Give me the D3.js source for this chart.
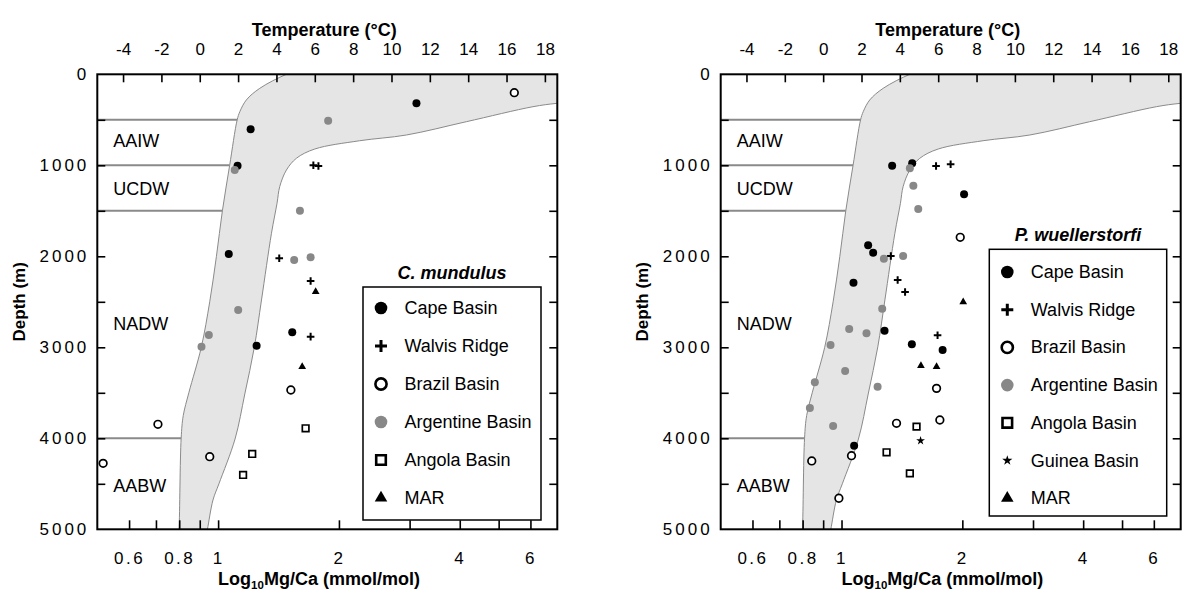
<!DOCTYPE html>
<html><head><meta charset="utf-8">
<script src="https://cdn.jsdelivr.net/npm/d3@7"></script>
<style>
body{margin:0;background:#fff}
svg{display:block}
text{font-family:"Liberation Sans",Arial,Helvetica,sans-serif;fill:#000}
</style></head><body>
<svg id="chart" width="1185" height="589"></svg>
<script>
// ---------------- data ----------------
const mgDomain = [0.5, 7];
const depthDomain = [0, 5000];
const calB = 0.9, calA = 0.11;            // Mg/Ca = B * exp(A * T)
const tempTicks = [-4, -2, 0, 2, 4, 6, 8, 10, 12, 14, 16, 18];
const mgTicks = [0.6, 0.7, 0.8, 0.9, 1, 2, 3, 4, 5, 6];
const mgLabels = [0.6, 0.8, 1, 2, 4, 6];
const depthTicks = [0, 500, 1000, 1500, 2000, 2500, 3000, 3500, 4000, 4500, 5000];
const depthLabels = [0, 1000, 2000, 3000, 4000, 5000];

const waterMassBounds = [500, 1000, 1500, 4000];
const waterMassNames = ["AAIW", "UCDW", "NADW", "AABW"];
const waterMassLabelDepth = [730, 1255, 2745, 4520];

// temperature envelope (°C vs depth)
const envColdT =     [5.4, 4.52, 3.13, 2.43, 2.09, 1.95, 1.56, 1.18, 0.87, 0.52, 0.08, -0.57, -0.86, -0.97, -1.08, -1.12];
const envColdDepth = [-60, 0,    154,  282,  411,  502,  1000, 1500, 2000, 2500, 3000, 3500,  3750,  4000,  5000,  5100];
const envWarmT =     [0.3,  0.4,  0.69, 1.0,  1.84, 2.35, 2.85, 3.22, 3.74, 4.03, 4.17, 4.52, 5.04, 6.0, 8.34, 10.78, 13.9, 17.38, 18.63, 21];
const envWarmDepth = [5100, 5000, 4678, 4500, 4008, 3513, 2995, 2480, 1747, 1418, 1235, 1052, 923,  821, 730,  667,   521,  356,   319,   280];

const siteNames = ["Cape Basin", "Walvis Ridge", "Brazil Basin", "Argentine Basin", "Angola Basin", "Guinea Basin", "MAR"];

// C. mundulus  [Mg/Ca, depth]
const cmCape = [[3.12,319],[1.205,604],[1.118,1004],[1.063,1975],[1.53,2835],[1.247,2982]];
const cmWalvis = [[1.727,1000],[1.778,1008],[1.42,2022],[1.70,2271],[1.70,2883]];
const cmBrazil = [[5.47,202],[1.518,3469],[0.708,3846],[0.517,4275],[0.953,4202]];
const cmArgentine = [[1.88,510],[1.10,1052],[1.599,1499],[1.547,2040],[1.70,2011],[1.122,2590],[0.948,2865],[0.909,2993]];
const cmAngola = [[1.652,3890],[1.216,4172],[1.154,4403]];
const cmMAR = [[1.75,2389],[1.62,3213]];

// P. wuellerstorfi  [Mg/Ca, depth]
const pwCape = [[1.337,1004],[1.50,978],[2.02,1319],[1.165,1879],[1.199,1960],[1.071,2290],[1.28,2817],[1.497,2967],[1.786,3030],[1.075,4081]];
const pwWalvis = [[1.72,1008],[1.87,989],[1.327,1997],[1.38,2260],[1.44,2392],[1.735,2868]];
const pwBrazil = [[1.976,1791],[1.725,3451],[1.371,3835],[1.758,3799],[1.059,4191],[0.843,4249],[0.985,4659]];
const pwArgentine = [[1.48,1033],[1.51,1224],[1.553,1480],[1.275,2026],[1.424,1997],[1.263,2575],[1.045,2799],[1.154,2846],[0.939,2975],[1.021,3260],[0.858,3385],[1.23,3433],[0.834,3667],[0.953,3865]];
const pwAngola = [[1.538,3872],[1.295,4154],[1.48,4385]];
const pwGuinea = [[1.574,4026]];
const pwMAR = [[2.01,2502],[1.577,3202],[1.725,3213]];

// ---------------- styles / layout ----------------
const siteStyle = {
  "Cape Basin":      {shape:"circle", fill:"#000", stroke:"none"},
  "Walvis Ridge":    {shape:"plus", fill:"none", stroke:"#000"},
  "Brazil Basin":    {shape:"circle", fill:"#fff", stroke:"#000"},
  "Argentine Basin": {shape:"circle", fill:"#888", stroke:"none"},
  "Angola Basin":    {shape:"square", fill:"#fff", stroke:"#000"},
  "Guinea Basin":    {shape:"star", fill:"#000", stroke:"none"},
  "MAR":             {shape:"triangle", fill:"#000", stroke:"none"}
};
const symSize = {
  data:   {circle:4, open:3.8, plus:3.8, square:3.3, star:24, triangle:26, sw:1.7, pw:2},
  legend: {circle:6.3, open:5.6, plus:6, square:4.8, star:32, triangle:68, sw:2.6, pw:3}
};

const panels = [
  {x0:97.3, title:"C. mundulus",
   series:[["Cape Basin",cmCape],["Walvis Ridge",cmWalvis],["Brazil Basin",cmBrazil],["Argentine Basin",cmArgentine],["Angola Basin",cmAngola],["MAR",cmMAR]],
   legend:{dx:265.7, y:287, w:178, h:233, first:308, step:38}},
  {x0:720.7, title:"P. wuellerstorfi",
   series:[["Cape Basin",pwCape],["Walvis Ridge",pwWalvis],["Brazil Basin",pwBrazil],["Argentine Basin",pwArgentine],["Angola Basin",pwAngola],["Guinea Basin",pwGuinea],["MAR",pwMAR]],
   legend:{dx:268.6, y:249.3, w:177.4, h:266.7, first:272, step:37.7}}
];
const TOP = 74.3, BOTTOM = 529.3, W = 460;
const tempDomain = mgDomain.map(m => Math.log(m / calB) / calA);

const svg = d3.select("#chart");

function symbolPath(name, kind) {
  const st = siteStyle[name], s = symSize[kind];
  if (st.shape === "circle") {
    const r = st.fill === "#fff" ? s.open : s.circle;
    return d3.symbol(d3.symbolCircle, Math.PI * r * r)();
  }
  if (st.shape === "plus") { const h = s.plus; return `M${-h},0H${h}M0,${-h}V${h}`; }
  if (st.shape === "square") { const a = s.square; return `M${-a},${-a}H${a}V${a}H${-a}Z`; }
  if (st.shape === "star") return d3.symbol(d3.symbolStar, s.star)();
  if (st.shape === "triangle") return d3.symbol(d3.symbolTriangle, s.triangle)();
}
function symbolStrokeWidth(name, kind) {
  const st = siteStyle[name], s = symSize[kind];
  if (st.shape === "plus") return s.pw;
  return st.stroke === "none" ? 0 : s.sw;
}

panels.forEach((p, pi) => {
  const x = d3.scaleLog().domain(mgDomain).range([p.x0, p.x0 + W]);
  const t = d3.scaleLinear().domain(tempDomain).range([p.x0, p.x0 + W]);
  const y = d3.scaleLinear().domain(depthDomain).range([TOP, BOTTOM]);
  const g = svg.append("g");

  const clipId = "clip" + pi;
  svg.append("clipPath").attr("id", clipId).append("rect")
    .attr("x", p.x0).attr("y", TOP).attr("width", W).attr("height", BOTTOM - TOP);

  // envelope
  const cold = envColdT.map((v, i) => [t(v), y(envColdDepth[i])]);
  const warm = envWarmT.map((v, i) => [t(v), y(envWarmDepth[i])]);
  const line = d3.line().curve(d3.curveCatmullRom.alpha(0.5));
  const coldPath = line(cold), warmPath = line(warm);
  const fillPath = coldPath + "L" + warmPath.slice(1) + `L${p.x0 + W + 50},${TOP - 50}Z`;
  const env = g.append("g").attr("clip-path", `url(#${clipId})`);
  env.append("path").attr("d", fillPath).attr("fill", "#e5e5e5").attr("stroke", "none");
  env.append("path").attr("d", coldPath).attr("fill", "none").attr("stroke", "#8a8a8a").attr("stroke-width", 1);
  env.append("path").attr("d", warmPath).attr("fill", "none").attr("stroke", "#8a8a8a").attr("stroke-width", 1);

  // water-mass boundaries (to cold edge of envelope)
  const coldAt = d => {
    for (let i = 0; i < envColdDepth.length - 1; i++) {
      if (d >= envColdDepth[i] && d <= envColdDepth[i + 1]) {
        const f = (d - envColdDepth[i]) / (envColdDepth[i + 1] - envColdDepth[i]);
        return envColdT[i] + f * (envColdT[i + 1] - envColdT[i]);
      }
    }
    return envColdT[envColdT.length - 1];
  };
  g.selectAll(".wm").data(waterMassBounds).join("line")
    .attr("x1", p.x0).attr("x2", d => t(coldAt(d)))
    .attr("y1", d => y(d)).attr("y2", d => y(d))
    .attr("stroke", "#8a8a8a").attr("stroke-width", 2);
  g.selectAll(".wmt").data(waterMassNames).join("text")
    .attr("x", p.x0 + 16).attr("y", (d, i) => y(waterMassLabelDepth[i]))
    .attr("dominant-baseline", "central").attr("font-size", 18).text(d => d);

  // points
  p.series.forEach(([name, arr]) => {
    const st = siteStyle[name];
    g.selectAll(null).data(arr).join("path")
      .attr("transform", d => `translate(${x(d[0])},${y(d[1])})`)
      .attr("d", symbolPath(name, "data"))
      .attr("fill", st.fill).attr("stroke", st.stroke === "none" ? "none" : st.stroke)
      .attr("stroke-width", symbolStrokeWidth(name, "data"));
  });

  // legend
  const L = p.legend, lx = p.x0 + L.dx;
  g.append("text").attr("x", lx + L.w / 2).attr("y", L.y - 14)
    .attr("text-anchor", "middle").attr("dominant-baseline", "central")
    .attr("font-size", 18).attr("font-weight", "bold").attr("font-style", "italic").text(p.title);
  g.append("rect").attr("x", lx).attr("y", L.y).attr("width", L.w).attr("height", L.h)
    .attr("fill", "#fff").attr("stroke", "#000").attr("stroke-width", 1.5);
  p.series.forEach(([name], i) => {
    const st = siteStyle[name], yy = L.first + i * L.step;
    g.append("path").attr("transform", `translate(${lx + 18},${yy})`)
      .attr("d", symbolPath(name, "legend"))
      .attr("fill", st.fill).attr("stroke", st.stroke === "none" ? "none" : st.stroke)
      .attr("stroke-width", symbolStrokeWidth(name, "legend"));
    g.append("text").attr("x", lx + 41.5).attr("y", yy).attr("dominant-baseline", "central")
      .attr("font-size", 18).text(name);
  });

  // axes
  const axT = g.append("g").attr("transform", `translate(0,${TOP})`)
    .call(d3.axisTop(t).tickValues(tempTicks).tickSizeInner(-8).tickSizeOuter(0).tickPadding(19).tickFormat(d => String(d)));
  const axB = g.append("g").attr("transform", `translate(0,${BOTTOM})`)
    .call(d3.axisBottom(x).tickValues(mgTicks).tickSizeInner(-9).tickSizeOuter(0).tickPadding(23)
      .tickFormat(d => mgLabels.includes(d) ? String(d) : ""));
  const axL = g.append("g").attr("transform", `translate(${p.x0},0)`)
    .call(d3.axisLeft(y).tickValues(depthTicks).tickSizeInner(-8).tickSizeOuter(0).tickPadding(8)
      .tickFormat(d => depthLabels.includes(d) ? String(d) : ""));
  const axR = g.append("g").attr("transform", `translate(${p.x0 + W},0)`)
    .call(d3.axisRight(y).tickValues(depthTicks).tickSizeInner(-8).tickSizeOuter(0).tickFormat(""));
  [axT, axB, axL, axR].forEach(a => {
    a.select(".domain").remove();
    a.selectAll(".tick line").attr("stroke", "#000").attr("stroke-width", 1.6);
    a.selectAll("text").attr("font-family", null).attr("font-size", 17).attr("fill", "#000");
  });
  axL.selectAll("text").attr("letter-spacing", "3px");
  axB.selectAll("text").attr("letter-spacing", "2.5px");
  axL.selectAll(".tick").filter(d => d === 0 || d === 5000).select("line").remove();
  axR.selectAll(".tick").filter(d => d === 0 || d === 5000).remove();

  // frame
  g.append("rect").attr("x", p.x0).attr("y", TOP).attr("width", W).attr("height", BOTTOM - TOP)
    .attr("fill", "none").attr("stroke", "#000").attr("stroke-width", 2);

  // titles
  g.append("text").attr("x", p.x0 + W / 2 - 3).attr("y", 30).attr("text-anchor", "middle")
    .attr("dominant-baseline", "central").attr("font-size", 18).attr("font-weight", "bold").text("Temperature (°C)");
  const bt = g.append("text").attr("x", x(1)).attr("y", 584.5)
    .attr("font-size", 18).attr("font-weight", "bold");
  bt.append("tspan").text("Log");
  bt.append("tspan").attr("font-size", 11.5).attr("dy", 4).text("10");
  bt.append("tspan").attr("dy", -4).text("Mg/Ca (mmol/mol)");
  g.append("text").attr("transform", `translate(${p.x0 - 78},${(TOP + BOTTOM) / 2}) rotate(-90)`)
    .attr("text-anchor", "middle").attr("dominant-baseline", "central")
    .attr("font-size", 17).attr("font-weight", "bold").text("Depth (m)");
});
</script>
</body></html>
